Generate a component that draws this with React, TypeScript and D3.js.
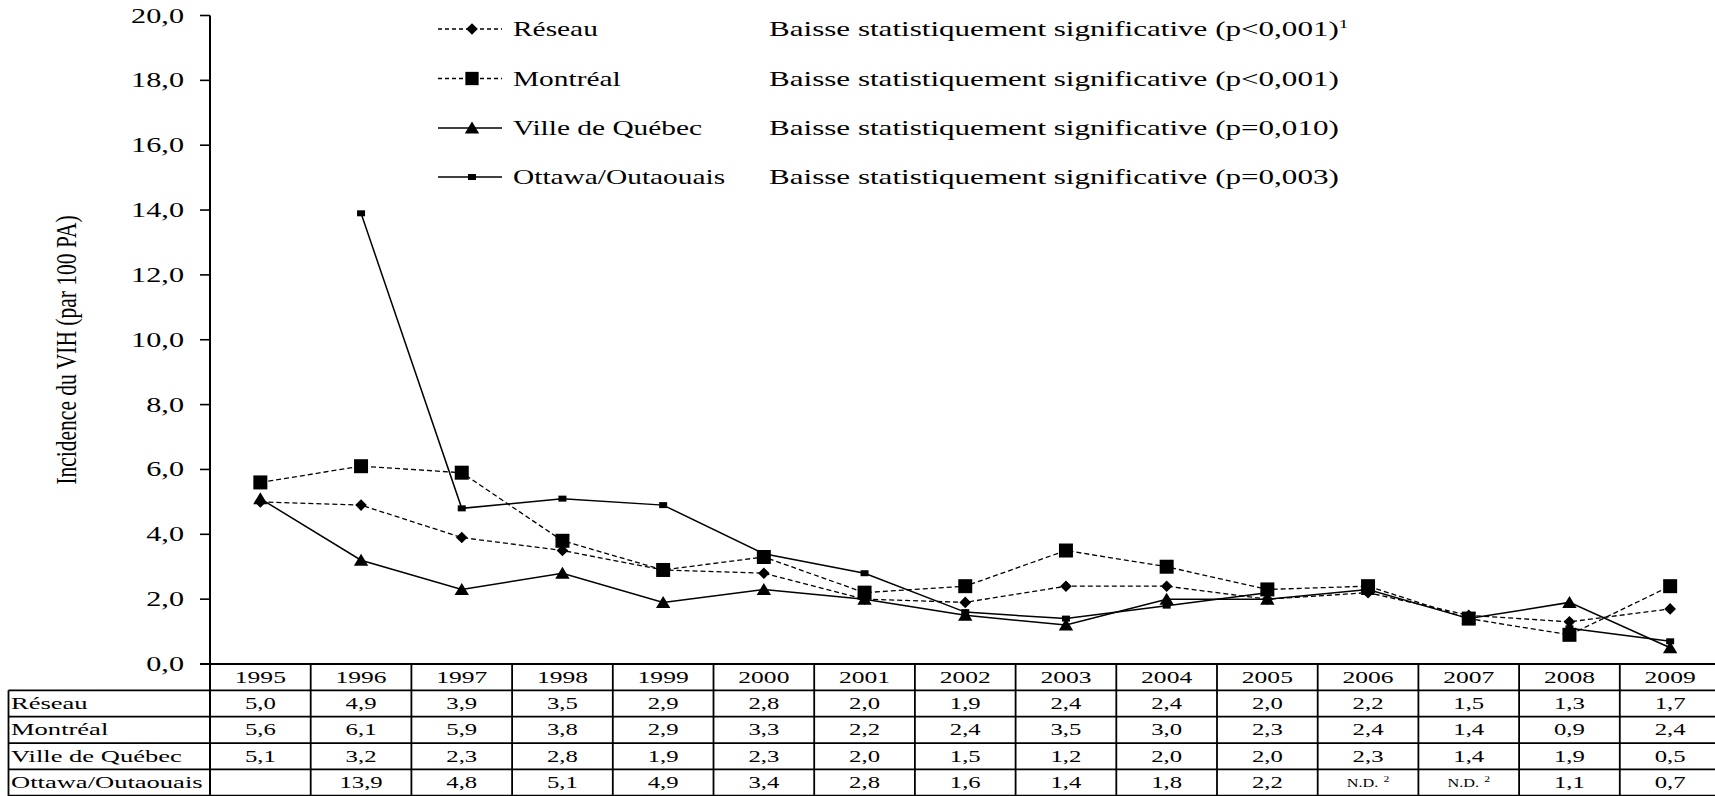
import React, { useEffect } from "react";
import * as d3 from "d3";

const years = ["1995","1996","1997","1998","1999","2000","2001","2002","2003","2004","2005","2006","2007","2008","2009"];
const seriesNames = ["Réseau", "Montréal", "Ville de Québec", "Ottawa/Outaouais"];
const reseau = [5.0,4.9,3.9,3.5,2.9,2.8,2.0,1.9,2.4,2.4,2.0,2.2,1.5,1.3,1.7];
const montreal = [5.6,6.1,5.9,3.8,2.9,3.3,2.2,2.4,3.5,3.0,2.3,2.4,1.4,0.9,2.4];
const villeQuebec = [5.1,3.2,2.3,2.8,1.9,2.3,2.0,1.5,1.2,2.0,2.0,2.3,1.4,1.9,0.5];
const ottawa: (number | null)[] = [null,13.9,4.8,5.1,4.9,3.4,2.8,1.6,1.4,1.8,2.2,null,null,1.1,0.7];
const ottawaCellText = ["","13,9","4,8","5,1","4,9","3,4","2,8","1,6","1,4","1,8","2,2","N.D.","N.D.","1,1","0,7"];
const significance = [
  "Baisse statistiquement significative (p<0,001)",
  "Baisse statistiquement significative (p<0,001)",
  "Baisse statistiquement significative (p=0,010)",
  "Baisse statistiquement significative (p=0,003)",
];
const yTicks = [0,2,4,6,8,10,12,14,16,18,20];
const yTitle = "Incidence du VIH (par 100 PA)";

const W = 1715, H = 796;
const FONT = "Liberation Serif, Times New Roman, serif";
const axisX = 210;
const colW = 100.7;
const tableTop = 664;
const rowH = 26.35;
const labelLeft = 8.5;

type Sym = "diamond" | "square" | "triangle" | "small";

function markerPath(kind: Sym): string {
  switch (kind) {
    case "diamond": return "M0,-5.8L5.8,0L0,5.8L-5.8,0Z";
    case "square": return "M-7,-7H7V7H-7Z";
    case "triangle": return "M0,-6.5L7.2,5.5H-7.2Z";
    default: return "M-4,-3H4V3H-4Z";
  }
}

const styles: { sym: Sym; dash: string | undefined; width: number }[] = [
  { sym: "diamond", dash: "5,3", width: 1.3 },
  { sym: "square", dash: "5,3", width: 1.3 },
  { sym: "triangle", dash: undefined, width: 1.5 },
  { sym: "small", dash: undefined, width: 1.5 },
];

function SText(props: { x: number; y: number; sx: number; size: number; anchor?: string; children: React.ReactNode }) {
  const { x, y, sx, size, anchor, children } = props;
  return (
    <text
      transform={`translate(${x},${y}) scale(${sx},1)`}
      style={{ fontFamily: FONT }}
      fontSize={size}
      textAnchor={anchor || "start"}
      fill="#000"
    >
      {children}
    </text>
  );
}

export default function App() {
  useEffect(() => {
    document.body.style.margin = "0";
  }, []);

  const x = d3.scaleBand<string>().domain(years).range([axisX, axisX + colW * years.length]).padding(0);
  const cx = (i: number) => (x(years[i]) as number) + x.bandwidth() / 2;
  const y = d3.scaleLinear().domain([0, 20]).range([tableTop, 15.5]);
  const fmt = (v: number) => d3.format(".1f")(v).replace(".", ",");

  const allSeries: (number | null)[][] = [reseau, montreal, villeQuebec, ottawa];

  const line = d3
    .line<number | null>()
    .defined((d) => d != null)
    .x((_, i) => cx(i))
    .y((d) => y(d as number));

  return (
    <svg width={W} height={H} style={{ position: "absolute", left: 0, top: 0, display: "block", background: "#fff" }}>
      <rect x={0} y={0} width={W} height={H} fill="#fff" />
      {/* Y axis title */}
      <text
        transform={`translate(66,350) rotate(-90) scale(1,1.35)`}
        style={{ fontFamily: FONT }}
        fontSize={21.5}
        textAnchor="middle"
        dominantBaseline="central"
        fill="#000"
      >
        {yTitle}
      </text>

      {/* Y axis */}
      <line x1={axisX} x2={axisX} y1={y(20)} y2={H} stroke="#000" strokeWidth={2} />
      {yTicks.map((t) => (
        <g key={t}>
          <line x1={200} x2={axisX} y1={y(t)} y2={y(t)} stroke="#000" strokeWidth={1.6} />
          <SText x={184} y={y(t) + 7} sx={1.44} size={21} anchor="end">{fmt(t)}</SText>
        </g>
      ))}

      {/* Series lines */}
      {allSeries.map((s, k) => (
        <path
          key={"l" + k}
          d={line(s) || ""}
          fill="none"
          stroke="#000"
          strokeWidth={styles[k].width}
          strokeDasharray={styles[k].dash}
        />
      ))}
      {/* Markers */}
      {allSeries.map((s, k) =>
        s.map((v, i) =>
          v == null ? null : (
            <path key={`m${k}-${i}`} d={markerPath(styles[k].sym)} transform={`translate(${cx(i)},${y(v)})`} fill="#000" />
          )
        )
      )}

      {/* Legend */}
      {seriesNames.map((name, k) => {
        const ly = [29, 78.5, 128, 177][k];
        return (
          <g key={"lg" + k}>
            <line x1={438} x2={502} y1={ly} y2={ly} stroke="#000" strokeWidth={styles[k].width} strokeDasharray={styles[k].dash ? "4,3" : undefined} />
            <path d={markerPath(styles[k].sym)} transform={`translate(472,${ly}) scale(${styles[k].sym === "square" ? 0.95 : 1})`} fill="#000" />
            <SText x={513} y={ly + 7} sx={1.4} size={21}>{name}</SText>
            <SText x={769} y={ly + 7} sx={1.48} size={21}>
              {significance[k]}
              {k === 0 ? <tspan fontSize={13} dy={-8}>1</tspan> : null}
            </SText>
          </g>
        );
      })}

      {/* Table grid */}
      <g stroke="#000" strokeWidth={1.8}>
        <line x1={200} x2={W + 10} y1={tableTop} y2={tableTop} />
        {[1, 2, 3, 4, 5].map((r) => (
          <line key={"h" + r} x1={labelLeft} x2={W + 10} y1={tableTop + r * rowH} y2={tableTop + r * rowH} />
        ))}
        <line x1={labelLeft} x2={labelLeft} y1={tableTop + rowH} y2={H + 2} />
        {d3.range(1, years.length + 1).map((c) => (
          <line key={"v" + c} x1={axisX + c * colW} x2={axisX + c * colW} y1={tableTop} y2={H + 2} />
        ))}
      </g>

      {/* Table header */}
      {years.map((yr, i) => (
        <SText key={"yr" + yr} x={cx(i)} y={tableTop + rowH / 2 + 5.6} sx={1.55} size={16.5} anchor="middle">{yr}</SText>
      ))}
      {/* Row labels */}
      {seriesNames.map((name, k) => (
        <SText key={"rl" + k} x={11} y={tableTop + (k + 1.5) * rowH + 5.5} sx={1.66} size={16} >{name}</SText>
      ))}
      {/* Cells */}
      {[reseau, montreal, villeQuebec].map((s, k) =>
        s.map((v, i) => (
          <SText key={`c${k}-${i}`} x={cx(i)} y={tableTop + (k + 1.5) * rowH + 5.6} sx={1.5} size={16.5} anchor="middle">{fmt(v)}</SText>
        ))
      )}
      {ottawaCellText.map((t, i) =>
        t === "N.D." ? (
          <SText key={`o${i}`} x={cx(i)} y={tableTop + 4.5 * rowH + 4.5} sx={1.3} size={12.5} anchor="middle">
            {t}<tspan dx={4} fontSize={9} dy={-5}>2</tspan>
          </SText>
        ) : (
          <SText key={`o${i}`} x={cx(i)} y={tableTop + 4.5 * rowH + 5.6} sx={1.5} size={16.5} anchor="middle">{t}</SText>
        )
      )}
    </svg>
  );
}
